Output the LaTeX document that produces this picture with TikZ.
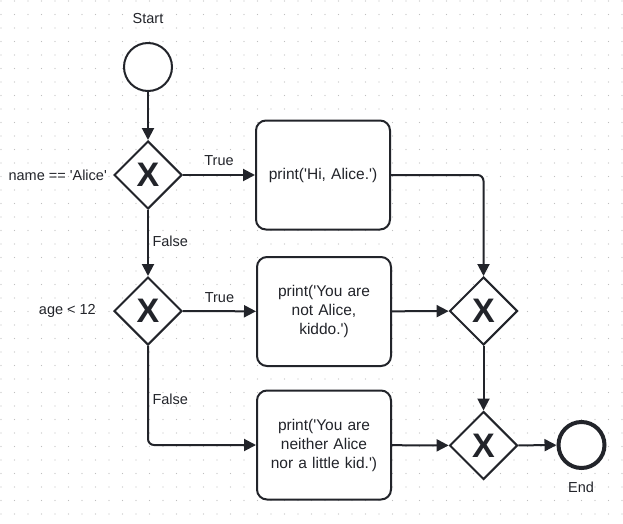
\documentclass[tikz,border=0pt]{standalone}
\usepackage{fontspec}
\setmainfont{Liberation Sans}[Ligatures=TeXOff]
\usetikzlibrary{arrows.meta}
\usetikzlibrary{shapes.geometric}
\usetikzlibrary{positioning}
\definecolor{ink}{HTML}{22242A}

\begin{document}
\begin{tikzpicture}[
    x=1pt, y=-1pt,
    flow/.style={->, >={Triangle[length=12pt,width=12pt]}, line width=2pt, color=ink},
    gateway/.style={diamond, draw=ink, line width=2pt, fill=white, minimum width=68pt, minimum height=68pt, inner sep=0pt, text=ink, font=\fontsize{34}{34}\selectfont\bfseries},
    task/.style={rectangle, rounded corners=10pt, draw=ink, line width=2pt, fill=white, minimum width=134pt, minimum height=109pt, text width=126pt, align=center, text=ink, font=\fontsize{15.5}{19}\selectfont},
    event/.style={circle, draw=ink, line width=2pt, fill=white, inner sep=0pt},
    label text/.style={inner sep=0pt, text=ink, font=\fontsize{14.5}{17}\selectfont},
    griddot/.style={fill=black!25}
    ]

    % background and dotted grid
    \fill[white] (0,0) rectangle (623,524);
    \useasboundingbox (0,0) rectangle (623,524);
    \foreach \i in {0,...,46}
        \foreach \j in {0,...,38}
            \fill[griddot] (1+13.5*\i,1+13.5*\j) circle (0.6pt);

    % events
    \node[event, minimum size=48pt] (start) at (148,67) {};
    \node[label text] (startlabel) at (148,19) {Start};
    \node[event, line width=4pt, minimum size=46pt] (end) at (581.5,445) {};
    \node[label text] (endlabel) at (581,487) {End};

    % gateways
    \node[gateway] (gw1) at (148,175) {X};
    \node[gateway] (gw2) at (148,311) {X};
    \node[gateway] (gw3) at (483.5,311) {X};
    \node[gateway] (gw4) at (483.5,445.5) {X};
    \node[label text, left=6pt of gw1] (namecheck) {name == 'Alice'};
    \node[label text, left=17pt of gw2] (agecheck) {age < 12};

    % tasks
    \node[task] (task1) at (323,175) {print('Hi, Alice.')};
    \node[task] (task2) at (324,311.5) {print('You are\\not Alice,\\kiddo.')};
    \node[task] (task3) at (324,445) {print('You are\\neither Alice\\nor a little kid.')};

    % sequence flows
    \draw[flow] (start) -- (gw1);
    \draw[flow] (gw1) -- node[label text, above=8pt] (true1) {True} (task1);
    \draw[flow] (gw1) -- node[label text, pos=0.47, right=3.5pt] (false1) {False} (gw2);
    \draw[flow] (gw2) -- node[label text, above=8pt] (true2) {True} (task2);
    \draw[flow, rounded corners=6pt] (gw2) |- node[label text, pos=0.267, right=3.5pt] (false2) {False} (task3);
    \draw[flow, rounded corners=6pt] (task1) -| (gw3);
    \draw[flow] (task2) -- (gw3);
    \draw[flow] (gw3) -- (gw4);
    \draw[flow] (task3) -- (gw4);
    \draw[flow] (gw4) -- (end);
\end{tikzpicture}
\end{document}
